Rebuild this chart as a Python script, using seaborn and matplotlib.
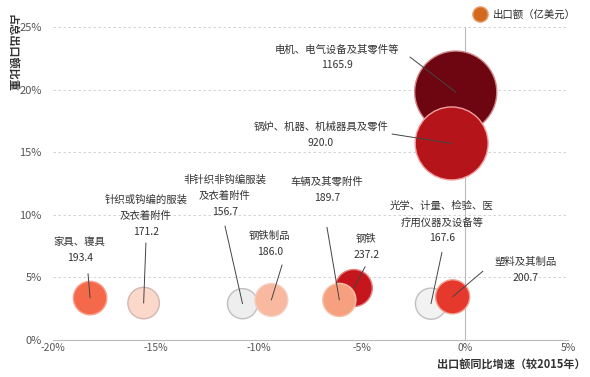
import matplotlib
matplotlib.use('Agg')
import matplotlib.pyplot as plt
import seaborn as sns
import pandas as pd
from matplotlib.lines import Line2D
from matplotlib.ticker import FuncFormatter

# data (order = drawing order)
names = ['电机、电气设备及其零件等', '锅炉、机器、机械器具及零件', '光学、计量、检验、医\n疗用仪器及设备等',
         '塑料及其制品', '钢铁', '车辆及其零附件', '非针织非钩编服装\n及衣着附件', '钢铁制品',
         '家具、寝具', '针织或钩编的服装\n及衣着附件']
growth = [-0.45, -0.65, -1.65, -0.6, -5.4, -6.1, -10.8, -9.4, -18.2, -15.6]   # 出口额同比增速 %
share = [19.8, 15.7, 2.9, 3.45, 4.15, 3.2, 2.9, 3.2, 3.35, 2.95]             # 占总出口额比重 %
export = [1165.9, 920.0, 167.6, 200.7, 237.2, 189.7, 156.7, 186.0, 193.4, 171.2]  # 亿美元

colors = ['#6e0612', '#b5141b', '#f2f2f2', '#e5392d', '#c5161d', '#f7a080', '#eeeeee',
          '#f9b8a0', '#f4694a', '#fbd8ca']
edges = ['#d08a8a', '#f0a0a0', '#c0c0c0', '#f0a090', '#e08080', '#f5c0a8', '#c0c0c0',
         '#f5d0c0', '#f8a090', '#d0b8b0']

# label layout: text centre, leader-line start
label_xy = [(-6.2, 22.6), (-7.0, 16.4), (-1.12, 9.4), (2.96, 5.6), (-4.8, 7.45),
            (-6.7, 12.0), (-11.65, 11.55), (-9.47, 7.65), (-18.7, 7.2), (-15.49, 9.95)]
line_start = [(-2.67, 22.6), (-3.54, 16.45), (-1.12, 7.0), (0.87, 5.5), (-4.85, 5.85),
              (-6.7, 9.0), (-11.65, 9.1), (-8.88, 6.0), (-18.3, 5.3), (-15.49, 7.75)]

df = pd.DataFrame({'name': names, 'growth': growth, 'share': share, 'export': export})

sns.set_theme(style='white')
plt.rcParams['font.family'] = ['Noto Sans CJK SC', 'DejaVu Sans']
plt.rcParams['axes.unicode_minus'] = False

fig = plt.figure(figsize=(5.9, 3.77), dpi=100)
ax = fig.add_axes([53 / 590, 1 - 340 / 377, 515 / 590, 313 / 377])

k = 3.0
sns.scatterplot(data=df, x='growth', y='share', hue='name', palette=dict(zip(names, colors)),
                size='export', sizes=(min(export) * k, max(export) * k),
                size_norm=(min(export), max(export)), edgecolor=edges, linewidth=1,
                legend=False, ax=ax, clip_on=False, zorder=3)

for i in range(len(names)):
    tx, ty = label_xy[i]
    ax.text(tx, ty, names[i] + '\n' + f'{export[i]:.1f}', ha='center', va='center',
            fontsize=7.5, color='#333333', linespacing=1.75, zorder=5)
    ax.annotate('', xy=(growth[i], share[i]), xytext=line_start[i],
                arrowprops=dict(arrowstyle='-', color='#444444', lw=0.7,
                                shrinkA=0, shrinkB=0), zorder=4)

ax.set_xlim(-20, 5)
ax.set_ylim(0, 25)
ax.set_xticks([-20, -15, -10, -5, 0, 5])
ax.set_yticks([0, 5, 10, 15, 20, 25])
ax.xaxis.set_major_formatter(FuncFormatter(lambda v, p: f'{v:.0f}%'))
ax.yaxis.set_major_formatter(FuncFormatter(lambda v, p: f'{v:.0f}%'))
ax.tick_params(axis='x', direction='in', length=4, width=0.8, color='#bbbbbb',
               labelsize=7.5, labelcolor='#555555', pad=2)
ax.tick_params(axis='y', length=0, labelsize=8, labelcolor='#555555', pad=8)

for s in ['top', 'right', 'left']:
    ax.spines[s].set_visible(False)
ax.spines['bottom'].set_color('#bbbbbb')
ax.spines['bottom'].set_linewidth(0.8)
for v in [5, 10, 15, 20, 25]:
    ax.axhline(v, color='#cccccc', lw=0.6, ls=(0, (3, 3)), zorder=1)
ax.axvline(0, color='#bbbbbb', lw=0.8, zorder=1)
ax.set_xlabel('')
ax.set_ylabel('')

fig.text(0.993, 1 - 364 / 377, '出口额同比增速（较2015年）', ha='right', va='center',
         fontsize=8, fontweight='bold', color='#333333')
fig.text(12 / 590, 1 - 53 / 377, '占总出口额比重', rotation=-90, ha='center', va='center',
         fontsize=8, fontweight='bold', color='#333333')

handle = Line2D([], [], marker='o', ls='', markersize=11, markerfacecolor='#d2691e',
                markeredgecolor='#e8a070')
fig.legend(handles=[handle], labels=['出口额（亿美元）'], loc='center left', frameon=False,
           bbox_to_anchor=(470 / 590, 1 - 15 / 377), fontsize=7.5, handletextpad=0.2,
           borderpad=0, borderaxespad=0)

fig.savefig('out.png', dpi=100)
